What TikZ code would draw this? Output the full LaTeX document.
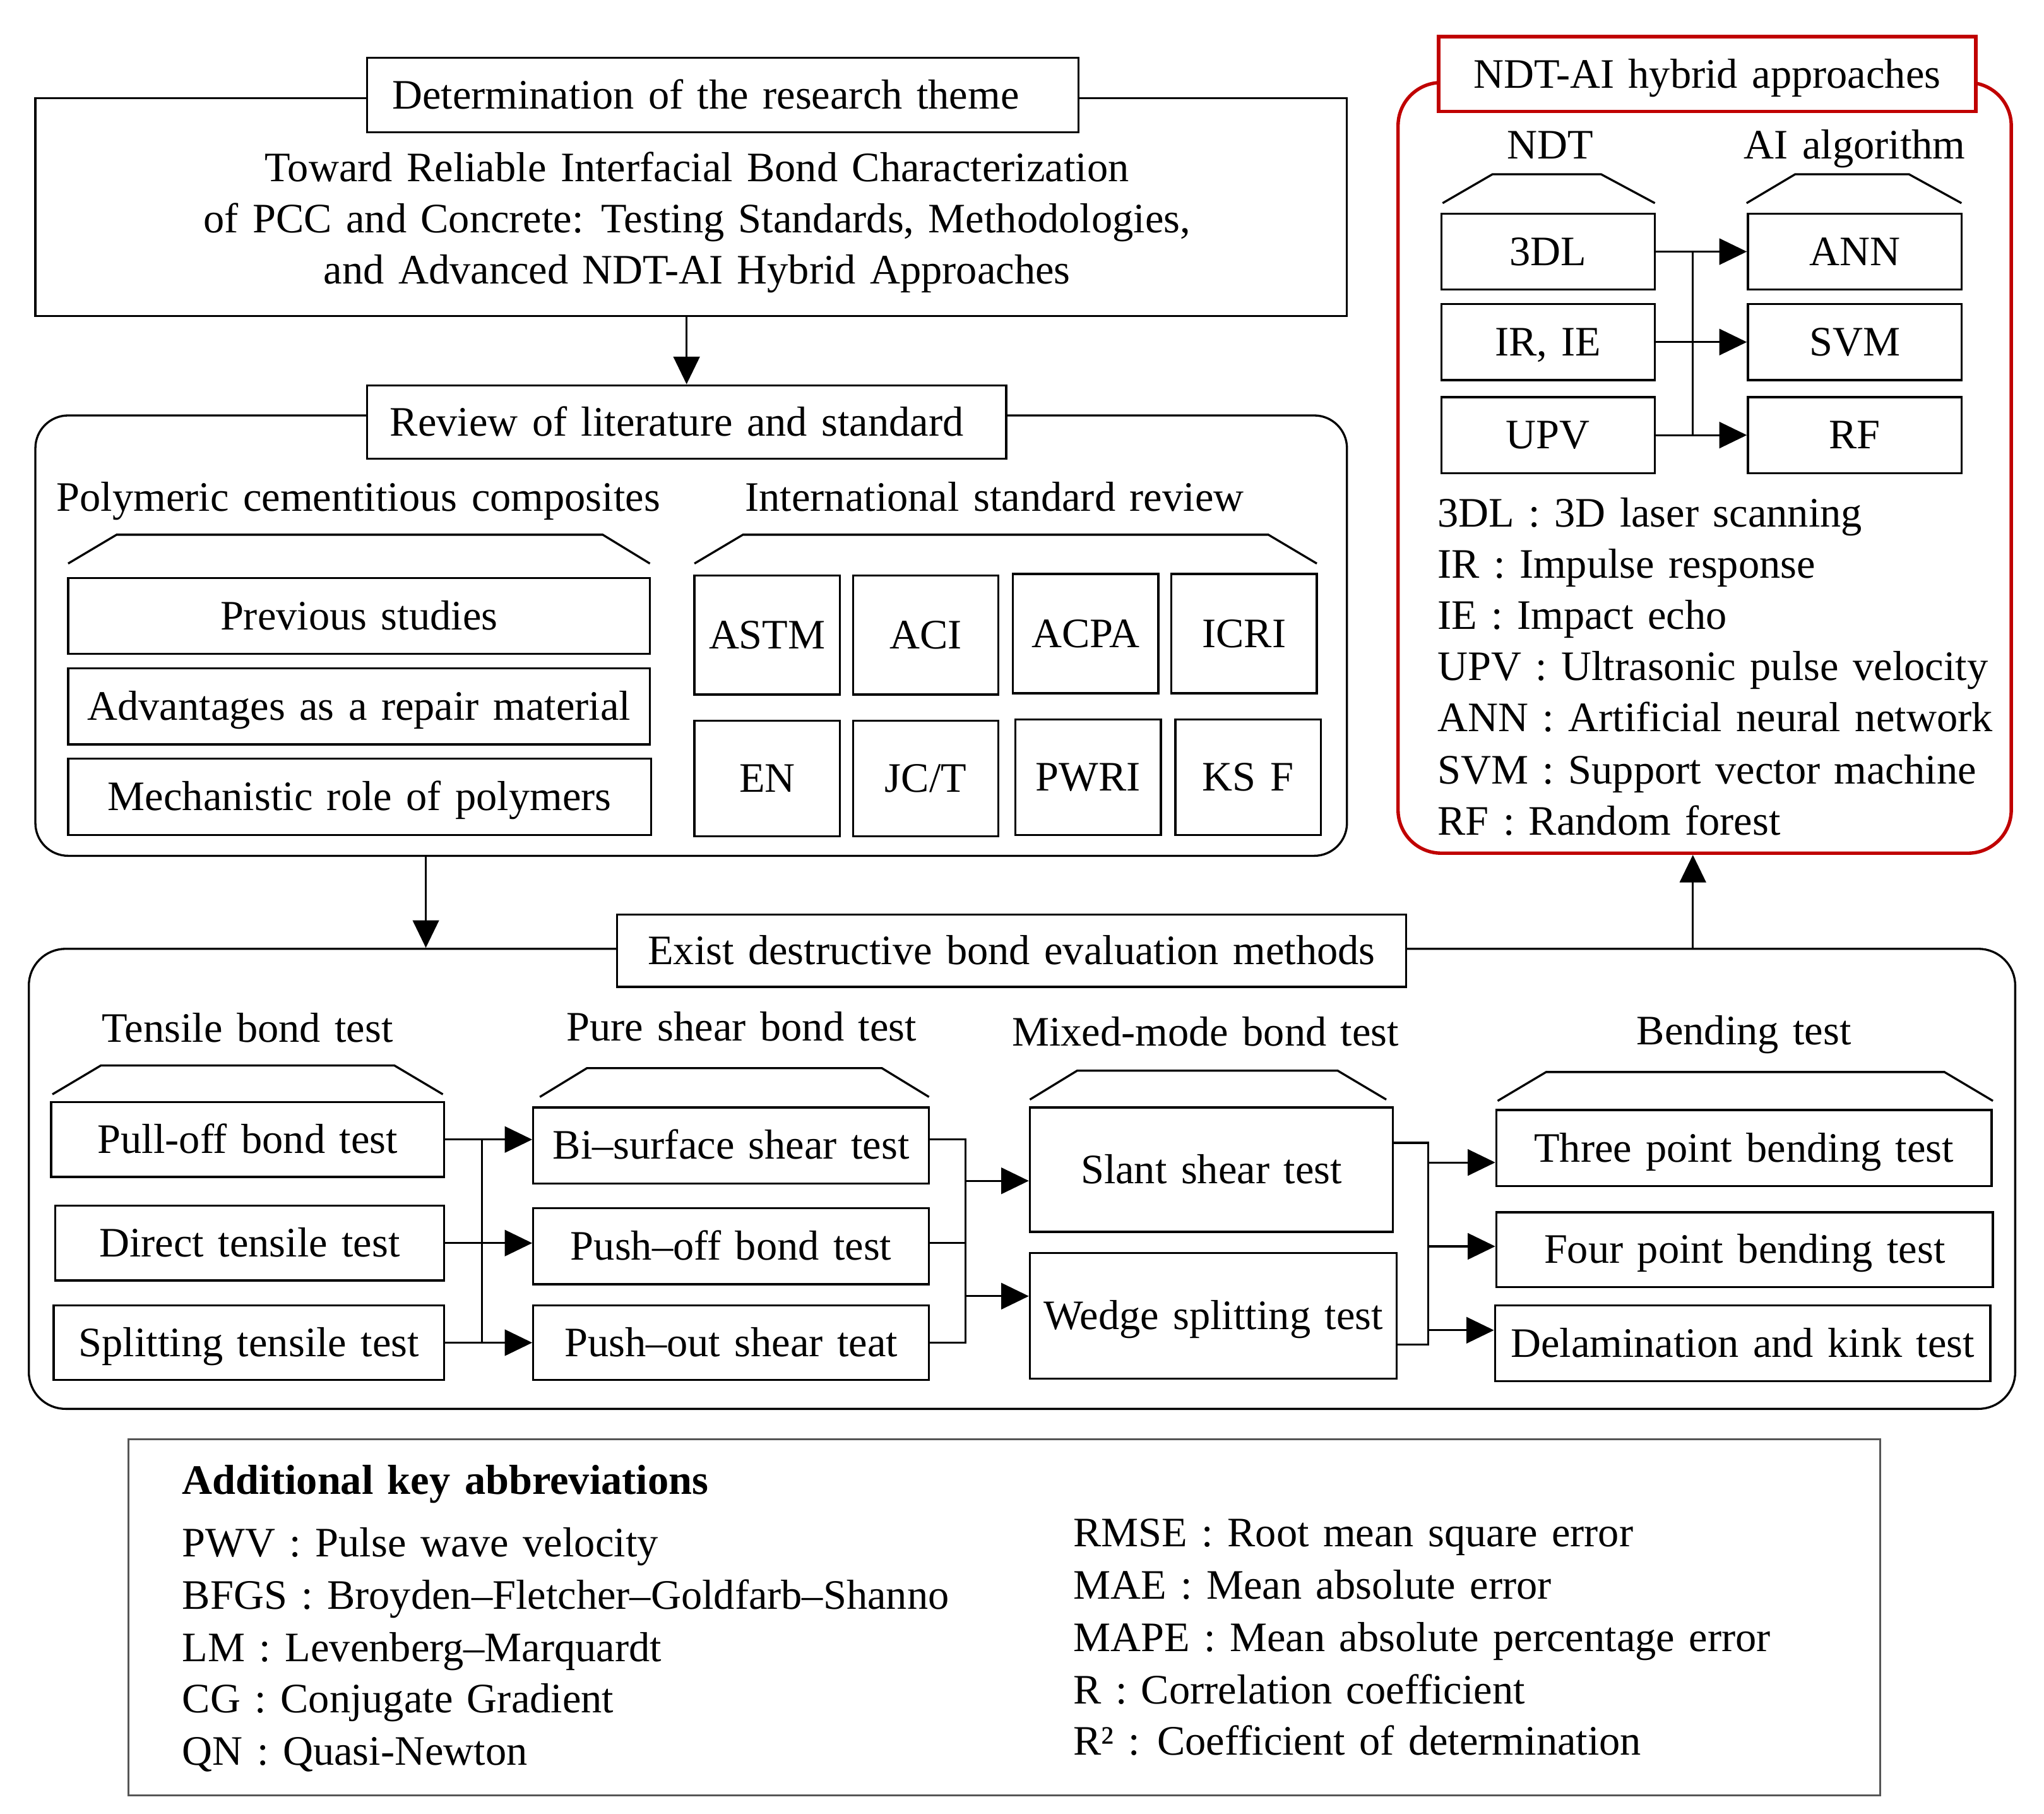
\documentclass[tikz,border=0pt]{standalone}
\usepackage{fontspec}
\setmainfont{Liberation Serif}[WordSpace=1.35]
\usetikzlibrary{arrows.meta}
\definecolor{ndtred}{RGB}{192,0,0}
\definecolor{legendframe}{RGB}{85,85,85}
\newcommand\bx[7][]{\node[box,#1,minimum width={(#5-#3)*1pt},minimum height={(#6-#4)*1pt}] (#2) at ({(#3+#5)/2},{(#4+#6)/2}) {#7};}
\newcommand\cont[6][]{\node[container,#1,minimum width={(#5-#3)*1pt},minimum height={(#6-#4)*1pt}] (#2) at ({(#3+#5)/2},{(#4+#6)/2}) {};}
\begin{document}
\begin{tikzpicture}[x=1pt,y=-1pt,
  fnt/.style={font=\fontsize{32}{39}\selectfont},
  box/.style={draw,line width=1.6pt,inner sep=0pt,fnt,text height=21pt,text depth=0pt,align=center},
  container/.style={draw,line width=1.6pt,inner sep=0pt},
  txt/.style={fnt,inner sep=0pt,anchor=base},
  ltxt/.style={fnt,inner sep=0pt,anchor=base west},
  brk/.style={line width=1.6pt,line join=miter},
  ln/.style={line width=1.5pt},
  arr/.style={line width=1.5pt,-{Triangle[length=21pt,width=20pt]}}]
\useasboundingbox (0,0) rectangle (1560,1383.7);

% ---------- research theme ----------
\cont{themebox}{27}{75}{1028}{241}
\bx[fill=white]{themetitle}{280}{44}{823}{101}{\hspace*{-26pt}Determination of the research theme}
\node[txt] (th1) at (532,138.5) {Toward Reliable Interfacial Bond Characterization};
\node[txt] (th2) at (532,177.5) {of PCC and Concrete: Testing Standards, Methodologies,};
\node[txt] (th3) at (532,216.5) {and Advanced NDT-AI Hybrid Approaches};

% ---------- review ----------
\cont[rounded corners=25pt]{reviewbox}{27}{317}{1028}{653}
\bx[fill=white]{reviewtitle}{280}{294}{768}{350}{\hspace*{-15pt}Review of literature and standard}
\node[txt] (polyhdr) at (273.5,390) {Polymeric cementitious composites};
\node[txt] (stdhdr) at (759,390) {International standard review};
\draw[brk] (52,430) -- (89,408) -- (460,408) -- (496,430);
\draw[brk] (530,430) -- (567,408) -- (968,408) -- (1005,430);
\bx{prev}{52}{441}{496}{499}{Previous studies}
\bx{adv}{52}{510}{496}{568}{Advantages as a repair material}
\bx{mech}{52}{579}{497}{637}{Mechanistic role of polymers}
\bx{astm}{530}{439}{641}{530}{ASTM}
\bx{aci}{651}{439}{762}{530}{ACI}
\bx{acpa}{773}{438}{884}{529}{ACPA}
\bx{icri}{894}{438}{1005}{529}{ICRI}
\bx{en}{530}{550}{641}{638}{EN}
\bx{jct}{651}{550}{762}{638}{JC/T}
\bx{pwri}{775}{549}{886}{637}{PWRI}
\bx{ksf}{897}{549}{1008}{637}{KS F}
\draw[arr] (themebox.south -| reviewtitle.north) -- (reviewtitle.north);

% ---------- NDT-AI ----------
\cont[draw=ndtred,rounded corners=33pt,line width=2.6pt]{ndtbox}{1067}{63}{1535}{651}
\bx[draw=ndtred,fill=white,line width=2.6pt]{ndttitle}{1098}{28}{1508}{85}{NDT-AI hybrid approaches}
\node[txt] (ndthdr) at (1183,121) {NDT};
\node[txt] (aihdr) at (1415.5,121) {AI algorithm};
\draw[brk] (1101,155) -- (1139,133) -- (1222,133) -- (1263,155);
\draw[brk] (1333,155) -- (1370,133) -- (1457,133) -- (1497,155);
\bx{l3dl}{1100}{163}{1263}{221}{3DL}
\bx{irie}{1100}{232}{1263}{290}{IR, IE}
\bx{upv}{1100}{303}{1263}{361}{UPV}
\bx{ann}{1334}{163}{1497}{221}{ANN}
\bx{svm}{1334}{232}{1497}{290}{SVM}
\bx{rf}{1334}{303}{1497}{361}{RF}
\coordinate (c2) at (1292,0);
\draw[arr] (l3dl.east) -- (ann.west);
\draw[arr] (irie.east) -- (svm.west);
\draw[arr] (upv.east) -- (rf.west);
\draw[ln] (c2 |- l3dl.east) -- (c2 |- upv.east);
\node[ltxt] (ab1) at (1097,402) {3DL : 3D laser scanning};
\node[ltxt] (ab2) at (1097,441) {IR : Impulse response};
\node[ltxt] (ab3) at (1097,480) {IE : Impact echo};
\node[ltxt] (ab4) at (1097,519) {UPV : Ultrasonic pulse velocity};
\node[ltxt] (ab5) at (1097,558) {ANN : Artificial neural network};
\node[ltxt] (ab6) at (1097,598) {SVM : Support vector machine};
\node[ltxt] (ab7) at (1097,637) {RF : Random forest};

% ---------- destructive ----------
\cont[rounded corners=28pt]{destbox}{22}{724}{1538}{1075}
\bx[fill=white]{desttitle}{471}{698}{1073}{753}{Exist destructive bond evaluation methods}
\coordinate (c1) at (325,0);
\draw[arr] (c1 |- reviewbox.south) -- (c1 |- destbox.north);
\draw[arr] (c2 |- destbox.north) -- (c2 |- ndtbox.south);
\node[txt] (tenhdr) at (189,795) {Tensile bond test};
\node[txt] (shrhdr) at (566,794) {Pure shear bond test};
\node[txt] (mixhdr) at (920,798) {Mixed-mode bond test};
\node[txt] (benhdr) at (1331,797) {Bending test};
\draw[brk] (40,835) -- (77,813) -- (301,813) -- (338,835);
\draw[brk] (412,837) -- (448,815) -- (673,815) -- (709,837);
\draw[brk] (786,839) -- (822,817) -- (1021,817) -- (1058,839);
\draw[brk] (1143,840) -- (1180,818) -- (1484,818) -- (1521,840);
\bx{pull}{39}{841}{339}{898}{Pull-off bond test}
\bx{direct}{42}{920}{339}{977}{Direct tensile test}
\bx{split}{41}{996}{339}{1053}{Splitting tensile test}
\bx{bisurf}{407}{845}{709}{903}{Bi–surface shear test}
\bx{pushoff}{407}{922}{709}{980}{Push–off bond test}
\bx{pushout}{407}{996}{709}{1053}{Push–out shear teat}
\bx{slant}{786}{845}{1063}{940}{Slant shear test}
\bx{wedge}{786}{956}{1066}{1052}{Wedge splitting test}
\bx{three}{1142}{847}{1520}{905}{Three point bending test}
\bx{four}{1142}{925}{1521}{982}{Four point bending test}
\bx{delam}{1141}{996}{1519}{1054}{Delamination and kink test}
% tensile -> shear
\coordinate (b1) at (368,0);
\draw[arr] (pull.east) -- (pull.east -| bisurf.west);
\draw[arr] (direct.east) -- (direct.east -| pushoff.west);
\draw[arr] (split.east) -- (split.east -| pushout.west);
\draw[ln] (b1 |- pull.east) -- (b1 |- split.east);
% shear -> mixed
\coordinate (b2) at (737,0);
\draw[ln] (bisurf.east |- pull.east) -- (b2 |- pull.east) -- (b2 |- split.east) -- (pushout.east |- split.east);
\draw[ln] (pushoff.east |- direct.east) -- (b2 |- direct.east);
\coordinate (m1) at (737,901);
\coordinate (m2) at (737,989);
\draw[arr] (m1) -- (m1 -| slant.west);
\draw[arr] (m2) -- (m2 -| wedge.west);
% mixed -> bending
\coordinate (o1) at (1090,872);
\coordinate (o2) at (1090,1026);
\draw[ln] (o1 -| slant.east) -- (o1) -- (o2) -- (o2 -| wedge.east);
\coordinate (k1) at (1090,887);
\coordinate (k2) at (1090,951);
\coordinate (k3) at (1090,1015);
\draw[arr] (k1) -- (k1 -| three.west);
\draw[arr] (k2) -- (k2 -| four.west);
\draw[arr] (k3) -- (k3 -| delam.west);

% ---------- legend ----------
\cont[draw=legendframe,line width=1.4pt]{legend}{98}{1098}{1435}{1370}
\node[ltxt,font=\fontsize{32}{39}\selectfont\bfseries] (leghdr) at (139,1140) {Additional key abbreviations};
\node[ltxt] (lg1) at (139,1188) {PWV : Pulse wave velocity};
\node[ltxt] (lg2) at (139,1228) {BFGS : Broyden–Fletcher–Goldfarb–Shanno};
\node[ltxt] (lg3) at (139,1268) {LM : Levenberg–Marquardt};
\node[ltxt] (lg4) at (139,1307) {CG : Conjugate Gradient};
\node[ltxt] (lg5) at (139,1347) {QN : Quasi-Newton};
\node[ltxt] (lg6) at (819,1180) {RMSE : Root mean square error};
\node[ltxt] (lg7) at (819,1220) {MAE : Mean absolute error};
\node[ltxt] (lg8) at (819,1260) {MAPE : Mean absolute percentage error};
\node[ltxt] (lg9) at (819,1300) {R : Correlation coefficient};
\node[ltxt] (lg10) at (819,1339) {R² : Coefficient of determination};
\end{tikzpicture}
\end{document}
